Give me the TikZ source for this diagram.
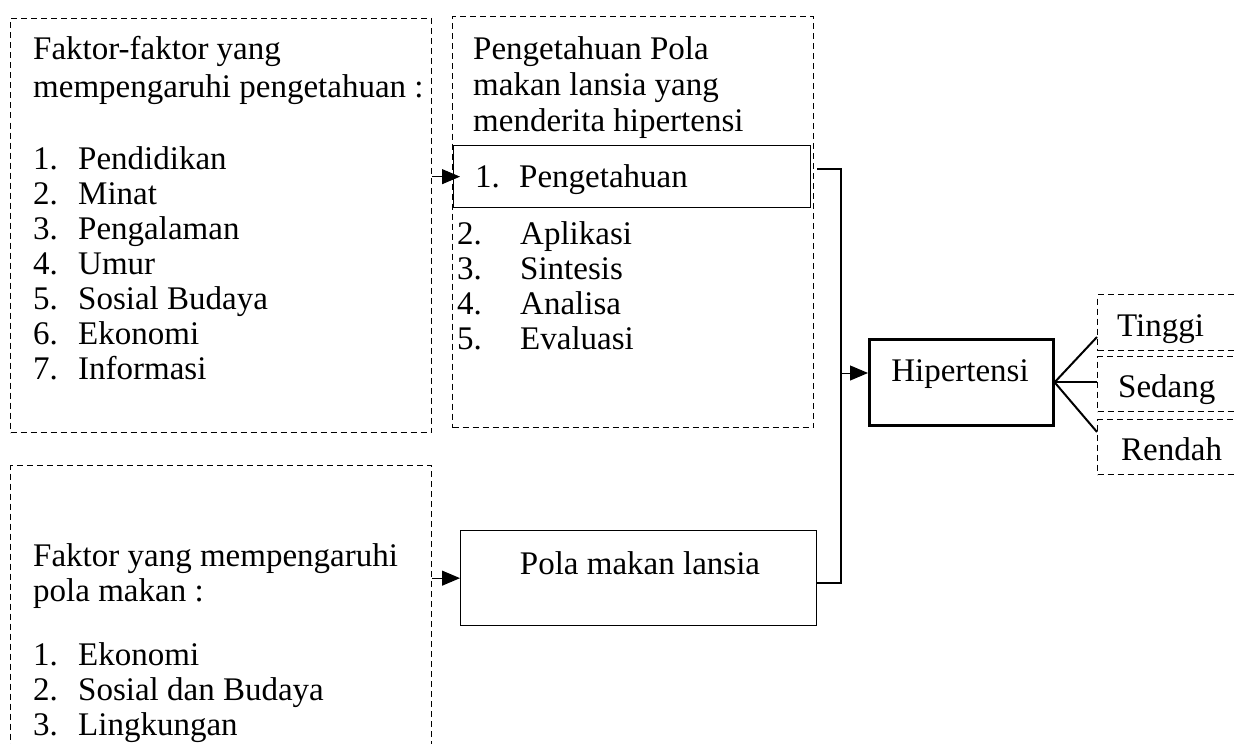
\documentclass[tikz,border=0pt]{standalone}
\usepackage{fontspec}
\setmainfont{Liberation Serif}
\usetikzlibrary{arrows.meta,calc}
\begin{document}
\begin{tikzpicture}[x=1pt,y=-1pt,
  dbox/.style={draw, dash pattern=on 6pt off 4pt, line width=1pt, inner sep=0pt, anchor=north west},
  sbox/.style={draw, line width=1.3pt, inner sep=0pt, anchor=north west},
  txt/.style={anchor=base west, inner sep=0pt, font=\fontsize{33}{35}\selectfont},
  ctxt/.style={anchor=base, inner sep=0pt, font=\fontsize{33}{35}\selectfont},
  arr/.style={line width=1pt, -{Triangle[length=18pt,width=15pt]}},
  thickline/.style={line width=2.6pt},
  ]
\useasboundingbox (0,0) rectangle (1235,744);
\begin{scope}
\clip (0,0) rectangle (1235,744);
% boxes
\node (b1) [dbox, minimum width=421pt, minimum height=414pt] at (10,18) {};
\node (b2) [dbox, minimum width=361pt, minimum height=411pt] at (452,16) {};
\node (b3) [dbox, minimum width=421pt, minimum height=320pt] at (10,465) {};
\node (pk) [sbox, minimum width=357pt, minimum height=62pt] at (453,145) {};
\node (pm) [sbox, minimum width=356pt, minimum height=95pt] at (460,530) {};
\node (hip) [draw, line width=2.6pt, inner sep=0pt, anchor=north west, minimum width=184pt, minimum height=86pt] at (868,338) {};
\node (ti) [dbox, minimum width=150pt, minimum height=56pt] at (1097,294) {};
\node (se) [dbox, minimum width=150pt, minimum height=55pt] at (1097,356) {};
\node (re) [dbox, minimum width=150pt, minimum height=55pt] at (1097,419) {};
\end{scope}
% box 1 text
\node (a1) [txt] at (33,59) {Faktor-faktor yang};
\node (a2) [txt] at (33,97) {mempengaruhi pengetahuan :};
\node (a3n) [txt] at (33,169) {1.};  \node (a3) [txt] at (78,169) {Pendidikan};
\node (a4n) [txt] at (33,204) {2.};  \node (a4) [txt] at (78,204) {Minat};
\node (a5n) [txt] at (33,239) {3.};  \node (a5) [txt] at (78,239) {Pengalaman};
\node (a6n) [txt] at (33,274) {4.};  \node (a6) [txt] at (78,274) {Umur};
\node (a7n) [txt] at (33,309) {5.};  \node (a7) [txt] at (78,309) {Sosial Budaya};
\node (a8n) [txt] at (33,344) {6.};  \node (a8) [txt] at (78,344) {Ekonomi};
\node (a9n) [txt] at (33,379) {7.};  \node (a9) [txt] at (78,379) {Informasi};
% box 2 text
\node (c1) [txt] at (473,59) {Pengetahuan Pola};
\node (c2) [txt] at (473,95) {makan lansia yang};
\node (c3) [txt] at (473,131) {menderita hipertensi};
\node (c4n) [txt] at (475,187) {1.};  \node (c4) [txt] at (519,187) {Pengetahuan};
\node (c5n) [txt] at (457,244) {2.};  \node (c5) [txt] at (520,244) {Aplikasi};
\node (c6n) [txt] at (457,279) {3.};  \node (c6) [txt] at (520,279) {Sintesis};
\node (c7n) [txt] at (457,314) {4.};  \node (c7) [txt] at (520,314) {Analisa};
\node (c8n) [txt] at (457,349) {5.};  \node (c8) [txt] at (520,349) {Evaluasi};
% box 3 text
\node (d1) [txt] at (33,566) {Faktor yang mempengaruhi};
\node (d2) [txt] at (33,601) {pola makan :};
\node (d3n) [txt] at (33,665) {1.};  \node (d3) [txt] at (78,665) {Ekonomi};
\node (d4n) [txt] at (33,700) {2.};  \node (d4) [txt] at (78,700) {Sosial dan Budaya};
\node (d5n) [txt] at (33,735) {3.};  \node (d5) [txt] at (78,735) {Lingkungan};
% other texts
\node (pmt) [ctxt] at (640,574) {Pola makan lansia};
\node (hipt) [ctxt] at (960,381) {Hipertensi};
\node (tit) [txt] at (1117,336) {Tinggi};
\node (set) [txt] at (1118,397) {Sedang};
\node (ret) [txt] at (1121,460) {Rendah};
% connectors
\draw[arr] (b1.east |- pk.west) -- ([xshift=7pt]pk.west);
\draw[arr] (b3.east |- pm.west) -- (pm.west);
\coordinate (bt) at (817,169);
\coordinate (bb) at (817,583);
\coordinate (bj) at (841,373);
\draw[thickline] (bt) -- (bt -| bj) -- (bb -| bj) -- (bb);
\draw[arr] (bj) -- (bj -| hip.west);
\draw[line width=2pt] (hip.east) -- (ti.west |- 0,337);
\draw[line width=2pt] (hip.east) -- (se.west |- hip.east);
\draw[line width=2pt] (hip.east) -- (re.west |- 0,432);
\end{tikzpicture}
\end{document}
